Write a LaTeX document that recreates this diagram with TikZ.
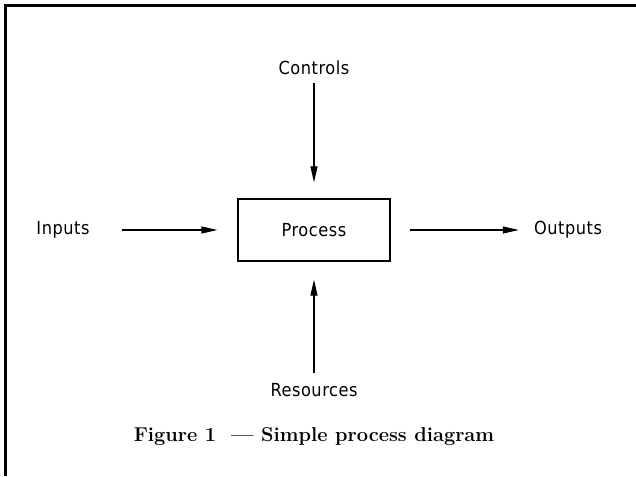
\documentclass[tikz,border=0pt]{standalone}
\usepackage{fontspec}
\usepackage{tikz}
\usetikzlibrary{arrows.meta}
\newfontfamily\labelfont[LetterSpace=3]{DejaVu Sans Condensed}

\begin{document}
\begin{tikzpicture}[x=1pt, y=-1pt,
    lbl/.style={font=\labelfont\fontsize{18}{21}\selectfont, inner sep=0pt},
    flow/.style={-{Triangle[length=16pt,width=7pt]}, line width=1.1pt}]
  \useasboundingbox (0,0) rectangle (636,476);
  % Frame
  \draw[line width=3pt] (5.5,476) -- (5.5,5.5) -- (636,5.5);
  % Nodes
  \node[lbl, draw, line width=1.3pt, minimum width=152pt, minimum height=62pt] (process) at (314,230) {Process};
  \foreach \name/\x/\y/\txt in {inputs/63/230/Inputs, outputs/568/230/Outputs,
                                 controls/314/68/Controls, resources/314/390/Resources} {
    \node[lbl] (\name) at (\x,\y) {\txt};
  }
  % Edges
  \draw[flow, shorten <=32pt, shorten >=20pt] (inputs) -- (process);
  \draw[flow, shorten <=19pt, shorten >=15pt] (process) -- (outputs);
  \draw[flow, shorten <=8pt, shorten >=16pt] (controls) -- (process);
  \draw[flow, shorten <=10pt, shorten >=18pt] (resources) -- (process);
  % Caption
  \node[font=\bfseries\fontsize{20}{24}\selectfont] (caption) at (314,437) {Figure 1 \ --- Simple process diagram};
\end{tikzpicture}
\end{document}
